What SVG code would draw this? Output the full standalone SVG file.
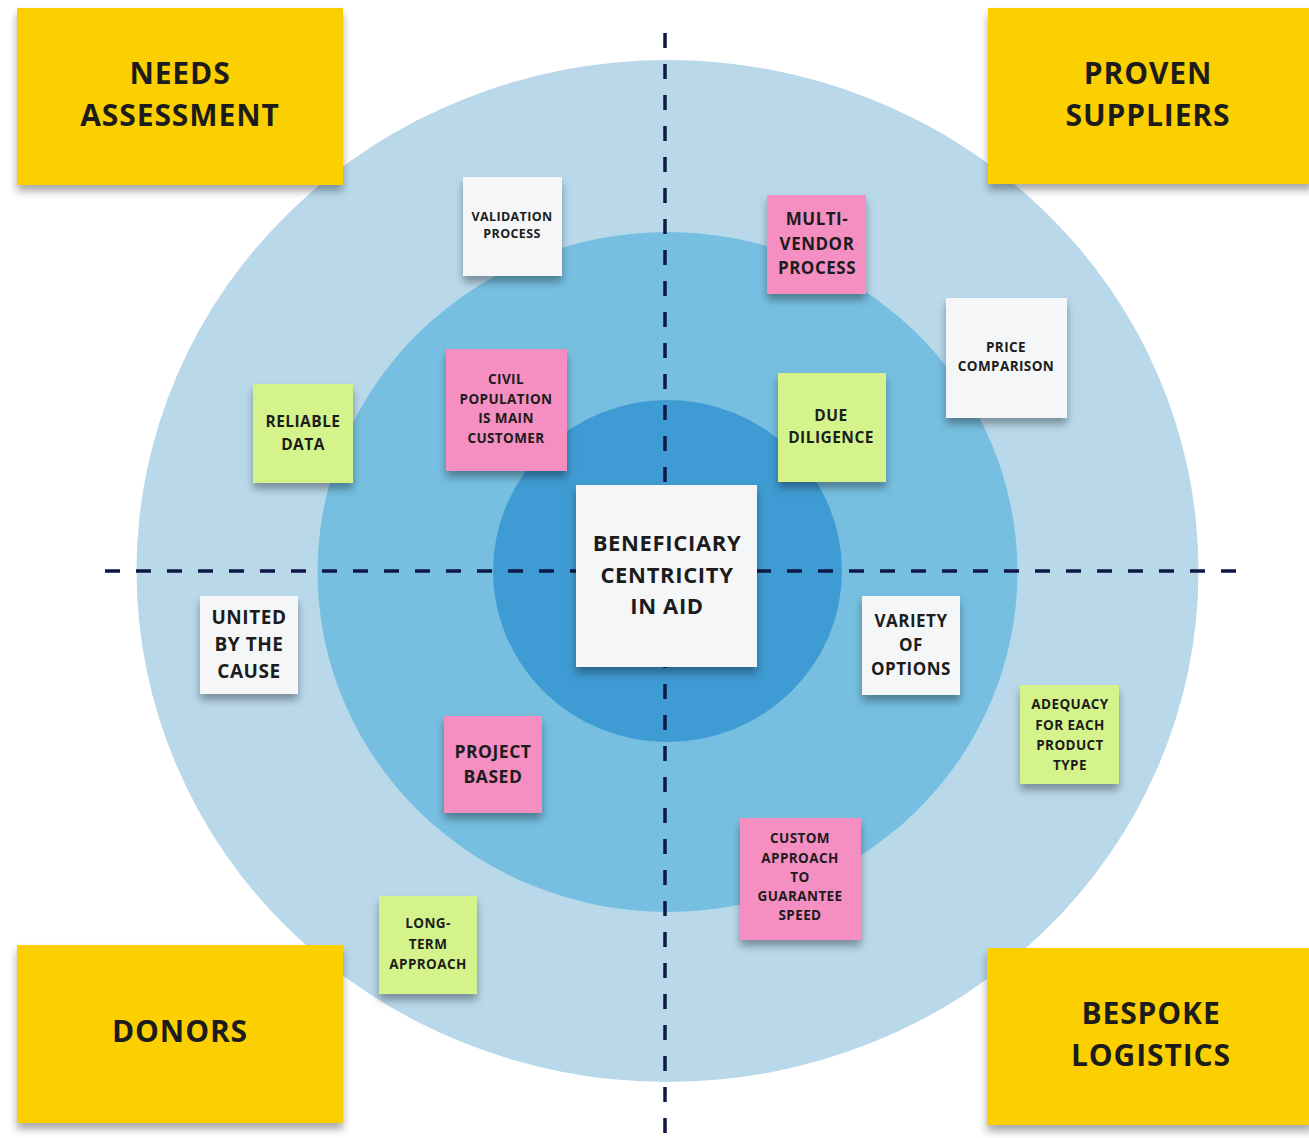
<svg xmlns="http://www.w3.org/2000/svg" width="1309" height="1138" viewBox="0 0 1309 1138">
<style>
.t{font-family:"Open Sans","Liberation Sans",sans-serif;font-weight:bold;fill:#1c1c1c;text-anchor:middle;letter-spacing:0.03em}
.y{fill:#FCD002}
.p{fill:#F58EC1}
.g{fill:#D4F48B}
.w{fill:#F5F6F7}
.dash{stroke:#0F1747;stroke-width:3.5;fill:none;stroke-dasharray:15 16}
</style>
<defs>
<filter id="sh" x="-20%" y="-20%" width="140%" height="150%">
<feDropShadow dx="0" dy="6" stdDeviation="4" flood-color="#000" flood-opacity="0.35"/>
</filter>
</defs>
<rect width="1309" height="1138" fill="#ffffff"/>
<g id="rings">
<ellipse cx="667.5" cy="571" rx="531" ry="511" fill="#B9D9EB"/>
<ellipse cx="667.5" cy="572" rx="350" ry="340" fill="#76BFE0"/>
<ellipse cx="667.5" cy="571" rx="174.5" ry="171" fill="#3F9BD3"/>
</g>
<g id="connectors">
<line class="dash" x1="105" y1="571" x2="1240" y2="571"/>
<line class="dash" x1="665" y1="33" x2="665" y2="1138"/>
</g>
<g id="needs-assessment">
<rect class="y" x="17" y="8" width="326" height="177" filter="url(#sh)"/>
<text class="t" font-size="30" x="180" y="84">NEEDS</text>
<text class="t" font-size="30" x="180" y="126">ASSESSMENT</text>
</g>
<g id="proven-suppliers">
<rect class="y" x="988" y="8" width="325" height="176" filter="url(#sh)"/>
<text class="t" font-size="30" x="1148" y="84">PROVEN</text>
<text class="t" font-size="30" x="1148" y="126">SUPPLIERS</text>
</g>
<g id="donors">
<rect class="y" x="17" y="945" width="326" height="178" filter="url(#sh)"/>
<text class="t" font-size="30" x="180" y="1042">DONORS</text>
</g>
<g id="bespoke-logistics">
<rect class="y" x="987" y="948" width="326" height="177" filter="url(#sh)"/>
<text class="t" font-size="30" x="1151" y="1024">BESPOKE</text>
<text class="t" font-size="30" x="1151" y="1066">LOGISTICS</text>
</g>
<g id="validation-process">
<rect class="w" x="463" y="177" width="99" height="99" filter="url(#sh)"/>
<text class="t" font-size="12.5" x="512" y="221">VALIDATION</text>
<text class="t" font-size="12.5" x="512" y="238">PROCESS</text>
</g>
<g id="multi-vendor-process">
<rect class="p" x="767" y="195" width="99" height="99" filter="url(#sh)"/>
<text class="t" font-size="17" x="817" y="225">MULTI-</text>
<text class="t" font-size="17" x="817" y="250">VENDOR</text>
<text class="t" font-size="17" x="817" y="274">PROCESS</text>
</g>
<g id="civil-population">
<rect class="p" x="446" y="349" width="121" height="122" filter="url(#sh)"/>
<text class="t" font-size="13.5" x="506" y="384">CIVIL</text>
<text class="t" font-size="13.5" x="506" y="404">POPULATION</text>
<text class="t" font-size="13.5" x="506" y="423">IS MAIN</text>
<text class="t" font-size="13.5" x="506" y="443">CUSTOMER</text>
</g>
<g id="due-diligence">
<rect class="g" x="778" y="373" width="108" height="109" filter="url(#sh)"/>
<text class="t" font-size="15.5" x="831" y="421">DUE</text>
<text class="t" font-size="15.5" x="831" y="443">DILIGENCE</text>
</g>
<g id="reliable-data">
<rect class="g" x="253" y="384" width="100" height="99" filter="url(#sh)"/>
<text class="t" font-size="15.5" x="303" y="427">RELIABLE</text>
<text class="t" font-size="15.5" x="303" y="450">DATA</text>
</g>
<g id="price-comparison">
<rect class="w" x="946" y="298" width="121" height="120" filter="url(#sh)"/>
<text class="t" font-size="13.5" x="1006" y="352">PRICE</text>
<text class="t" font-size="13.5" x="1006" y="371">COMPARISON</text>
</g>
<g id="beneficiary-centricity">
<rect class="w" x="576" y="485" width="181" height="182" filter="url(#sh)"/>
<text class="t" font-size="22" x="667" y="551">BENEFICIARY</text>
<text class="t" font-size="22" x="667" y="583">CENTRICITY</text>
<text class="t" font-size="22" x="667" y="614">IN AID</text>
</g>
<g id="united-by-the-cause">
<rect class="w" x="200" y="596" width="98" height="98" filter="url(#sh)"/>
<text class="t" font-size="19" x="249" y="624">UNITED</text>
<text class="t" font-size="19" x="249" y="651">BY THE</text>
<text class="t" font-size="19" x="249" y="678">CAUSE</text>
</g>
<g id="variety-of-options">
<rect class="w" x="862" y="596" width="98" height="99" filter="url(#sh)"/>
<text class="t" font-size="17" x="911" y="627">VARIETY</text>
<text class="t" font-size="17" x="911" y="651">OF</text>
<text class="t" font-size="17" x="911" y="675">OPTIONS</text>
</g>
<g id="adequacy">
<rect class="g" x="1020" y="685" width="99" height="99" filter="url(#sh)"/>
<text class="t" font-size="13.5" x="1070" y="709">ADEQUACY</text>
<text class="t" font-size="13.5" x="1070" y="730">FOR EACH</text>
<text class="t" font-size="13.5" x="1070" y="750">PRODUCT</text>
<text class="t" font-size="13.5" x="1070" y="770">TYPE</text>
</g>
<g id="project-based">
<rect class="p" x="444" y="716" width="98" height="97" filter="url(#sh)"/>
<text class="t" font-size="17.5" x="493" y="758">PROJECT</text>
<text class="t" font-size="17.5" x="493" y="783">BASED</text>
</g>
<g id="custom-approach">
<rect class="p" x="740" y="818" width="121" height="122" filter="url(#sh)"/>
<text class="t" font-size="13.5" x="800" y="843">CUSTOM</text>
<text class="t" font-size="13.5" x="800" y="863">APPROACH</text>
<text class="t" font-size="13.5" x="800" y="882">TO</text>
<text class="t" font-size="13.5" x="800" y="901">GUARANTEE</text>
<text class="t" font-size="13.5" x="800" y="920">SPEED</text>
</g>
<g id="long-term-approach">
<rect class="g" x="379" y="896" width="98" height="98" filter="url(#sh)"/>
<text class="t" font-size="13.5" x="428" y="928">LONG-</text>
<text class="t" font-size="13.5" x="428" y="949">TERM</text>
<text class="t" font-size="13.5" x="428" y="969">APPROACH</text>
</g>
</svg>
